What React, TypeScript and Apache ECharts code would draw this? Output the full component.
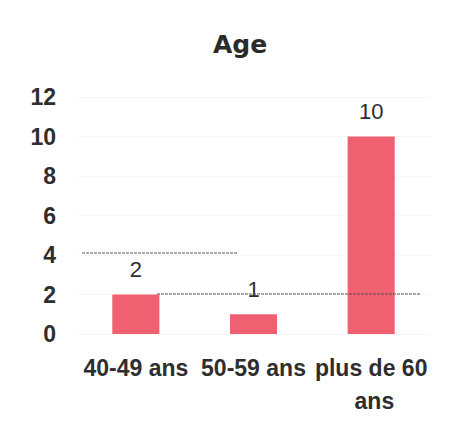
import React, { useEffect, useRef } from "react";
import * as echarts from "echarts";

const categories = ["40-49 ans", "50-59 ans", "plus de 60 ans"];
const values = [2, 1, 10];
const yTicks = { min: 0, max: 12, interval: 2 };

export default function App() {
  const ref = useRef<HTMLDivElement>(null);
  useEffect(() => {
    if (!ref.current) return;
    const chart = echarts.init(ref.current, undefined, { renderer: "svg" });
    chart.setOption({
      animation: false,
      backgroundColor: "#ffffff",
      textStyle: { fontFamily: "Liberation Sans, Arial, sans-serif" },
      title: {
        text: "Age",
        left: 235,
        top: 27,
        textAlign: "center",
        textStyle: { fontSize: 25, fontWeight: 900, color: "#2b2b2b", fontFamily: "DejaVu Sans, sans-serif" },
      },
      grid: { left: 77, right: 20, top: 97, bottom: 90, containLabel: false },
      xAxis: {
        type: "category",
        data: categories,
        axisLine: { show: false },
        axisTick: { show: false },
        axisLabel: {
          interval: 0,
          margin: 17,
          fontSize: 23,
          fontWeight: "bold",
          color: "#2e2e2e",
          width: 118,
          overflow: "break",
          lineHeight: 33,
        },
      },
      yAxis: {
        type: "value",
        min: yTicks.min,
        max: yTicks.max,
        interval: yTicks.interval,
        axisLine: { show: false },
        axisTick: { show: false },
        splitLine: { show: true, lineStyle: { color: "#f6f6f6", width: 1 } },
        axisLabel: { margin: 21, fontSize: 23, fontWeight: "bold", color: "#2e2e2e" },
      },
      series: [
        {
          type: "bar",
          data: values,
          barWidth: "40%",
          itemStyle: { color: "#ef6170" },
          label: {
            show: true,
            position: "top",
            distance: 14,
            fontSize: 22,
            color: "#2e2e2e",
          },
        },
      ],
      graphic: [
        {
          type: "line",
          shape: { x1: 82, y1: 253, x2: 237, y2: 253 },
          style: { stroke: "#555", lineWidth: 1, lineDash: [3, 1] },
        },
        {
          type: "line",
          shape: { x1: 157, y1: 294, x2: 420, y2: 294 },
          style: { stroke: "#555", lineWidth: 1, lineDash: [3, 1] },
          z: 10,
        },
      ],
    });
    return () => chart.dispose();
  }, []);
  return (
    <div
      ref={ref}
      style={{ position: "absolute", left: 0, top: 0, width: 450, height: 424 }}
    />
  );
}
